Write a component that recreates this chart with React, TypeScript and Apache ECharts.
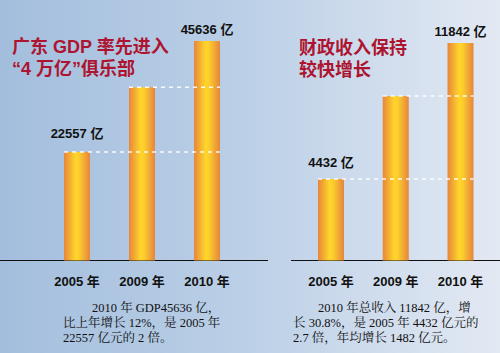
import React, { useEffect, useRef } from "react";
import * as echarts from "echarts";

const years = ["2005 年", "2009 年", "2010 年"];
const gdpValues = [22557, 36000, 45636];
const revenueValues = [4432, 8950, 11842];
const gdpLabelShown = [true, false, true];
const revLabelShown = [true, false, true];
const gdpTitle = ["广东 GDP 率先进入", "“4 万亿”俱乐部"];
const revTitle = ["财政收入保持", "较快增长"];
const gdpNote = ["2010 年 GDP45636 亿，", "比上年增长 12%，是 2005 年", "22557 亿元的 2 倍。"];
const revNote = ["2010 年总收入 11842 亿，增", "长 30.8%，是 2005 年 4432 亿元的", "2.7 倍，年均增长 1482 亿元。"];

const BAR_W = 26;
const SANS = "'Liberation Sans', 'Noto Sans CJK SC', sans-serif";
const SERIF = "'Liberation Serif', 'Noto Serif CJK SC', 'Noto Sans CJK SC', serif";

export default function App() {
  const ref = useRef<HTMLDivElement>(null);
  useEffect(() => {
    if (!ref.current) return;
    const chart = echarts.init(ref.current, null, { renderer: "svg" });
    const barColor = new echarts.graphic.LinearGradient(0, 0, 1, 0, [
      { offset: 0, color: "#e8863b" },
      { offset: 0.45, color: "#ffd52a" },
      { offset: 0.58, color: "#fccd2c" },
      { offset: 1, color: "#e6853d" },
    ]);
    const mkBar = (values: number[], shown: boolean[], dists: number[], idx: number) => ({
      type: "bar",
      xAxisIndex: idx,
      yAxisIndex: idx,
      barWidth: BAR_W,
      itemStyle: { color: barColor },
      z: 2,
      data: values.map((v, i) => ({
        value: v,
        label: {
          show: shown[i],
          position: "top",
          distance: dists[i],
          formatter: "{c} 亿",
          color: "#111",
          fontWeight: "bold",
          fontSize: 13,
          fontFamily: SANS,
        },
      })),
    });
    const mkDash = (values: number[], idx: number) => ({
      type: "custom",
      xAxisIndex: idx,
      yAxisIndex: idx,
      z: 5,
      silent: true,
      data: values.slice(0, values.length - 1).map((v, i) => [i, v, values.length - 1]),
      renderItem: (params: any, api: any) => {
        const v = api.value(1);
        const s = api.coord([api.value(0), v]);
        const e = api.coord([api.value(2), v]);
        return {
          type: "line",
          shape: { x1: s[0] - BAR_W / 2, y1: s[1], x2: e[0] + BAR_W / 2, y2: e[1] },
          style: { stroke: "rgba(255,255,255,0.9)", lineWidth: 1.5, lineDash: [4, 4] },
        };
      },
    });
    const xAxisBase = (idx: number) => ({
      type: "category",
      gridIndex: idx,
      data: years,
      axisLine: { show: false },
      axisTick: { show: false },
      axisLabel: {
        margin: 14,
        color: "#111",
        fontWeight: "bold",
        fontSize: 13,
        fontFamily: SANS,
      },
    });
    const textEl = (t: string, x: number, y: number, style: any) => ({
      type: "text",
      x,
      y,
      style: { text: t, verticalAlign: "middle", ...style },
    });
    const titleStyle = { fill: "#ad1430", fontSize: 18, fontWeight: "bold", fontFamily: SANS };
    const noteStyle = { fill: "#111", fontSize: 12.5, fontFamily: SERIF };
    chart.setOption({
      animation: false,
      grid: [
        { left: 44.5, width: 195, top: 41, bottom: 92.5 },
        { left: 298.6, width: 194.3, top: 43, bottom: 92.5 },
      ],
      xAxis: [xAxisBase(0), xAxisBase(1)],
      yAxis: [
        { type: "value", gridIndex: 0, min: 0, max: gdpValues[2], show: false, splitLine: { show: false } },
        { type: "value", gridIndex: 1, min: 0, max: revenueValues[2], show: false, splitLine: { show: false } },
      ],
      series: [
        mkBar(gdpValues, gdpLabelShown, [12, 0, 5], 0),
        mkBar(revenueValues, revLabelShown, [10, 0, 5.5], 1),
        mkDash(gdpValues, 0),
        mkDash(revenueValues, 1),
      ],
      graphic: [
        { type: "line", shape: { x1: 0, y1: 260.5, x2: 268, y2: 260.5 }, style: { stroke: "#111", lineWidth: 1.2 } },
        { type: "line", shape: { x1: 291, y1: 260.5, x2: 500, y2: 260.5 }, style: { stroke: "#111", lineWidth: 1.2 } },
        textEl(gdpTitle[0], 12, 47, titleStyle),
        textEl(gdpTitle[1], 12, 69, titleStyle),
        textEl(revTitle[0], 299, 48, titleStyle),
        textEl(revTitle[1], 299, 70, titleStyle),
        textEl(gdpNote[0], 92, 308, noteStyle),
        textEl(gdpNote[1], 63, 323, noteStyle),
        textEl(gdpNote[2], 63, 337.5, noteStyle),
        textEl(revNote[0], 318, 308, noteStyle),
        textEl(revNote[1], 293, 323, noteStyle),
        textEl(revNote[2], 293, 337.5, noteStyle),
      ],
    });
    return () => chart.dispose();
  }, []);
  return (
    <div
      ref={ref}
      style={{
        position: "fixed",
        left: 0,
        top: 0,
        width: 500,
        height: 353,
        background: "linear-gradient(to right, #a3bedd 0%, #bcd0e7 50%, #e3e9f3 100%)",
      }}
    />
  );
}
